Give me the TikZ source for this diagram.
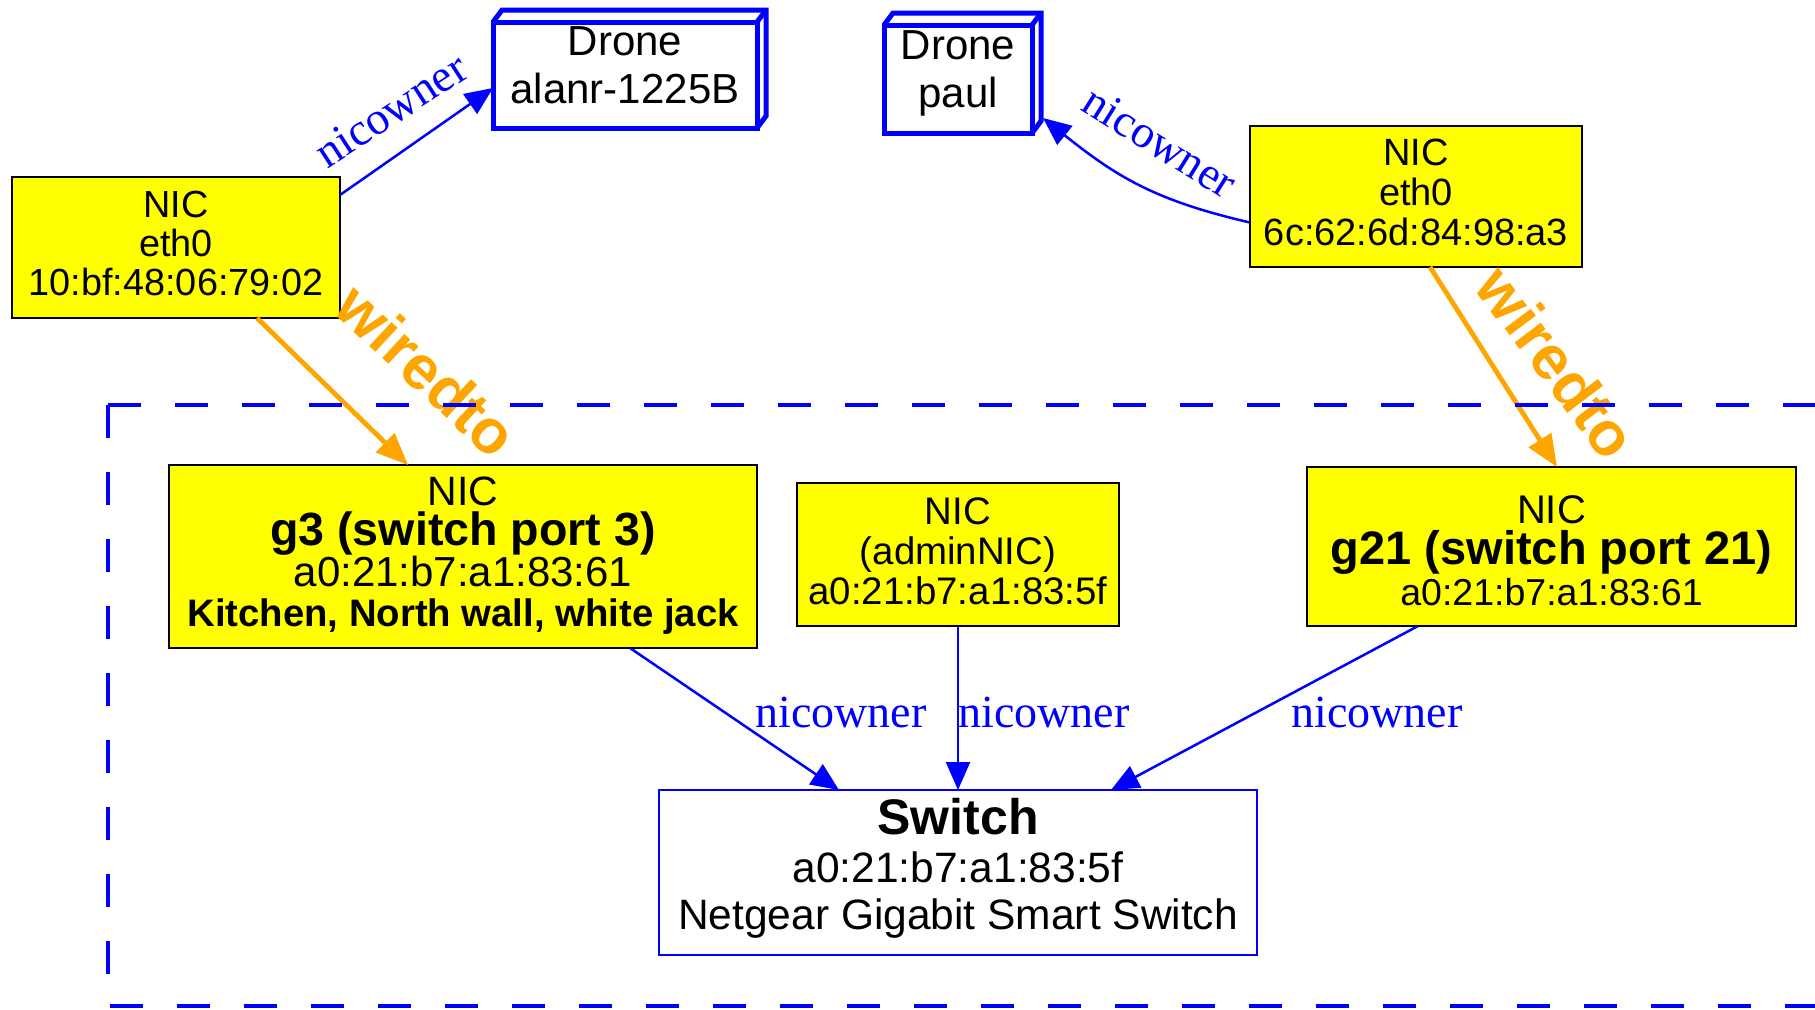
\documentclass[tikz,border=0pt]{standalone}
\usepackage{fontspec}
\setmainfont{Liberation Sans}
\newfontfamily\edgeserif{Liberation Serif}
\usetikzlibrary{arrows.meta,calc,fit}

\definecolor{nicyellow}{RGB}{255,255,0}
\definecolor{wireorange}{RGB}{255,165,0}
\definecolor{ownerblue}{RGB}{0,0,255}

% font size / baseline skip shorthand
\newcommand\fsz[2]{\fontsize{#1}{#2}\selectfont}
% centred lines stacked with a fixed baseline skip
\newcommand\textstack[1]{\vtop{\halign{\hfil##\hfil\cr#1\crcr}}}
% keep the baseline skip fixed even for tall lines
\AtBeginDocument{\setlength{\lineskiplimit}{-30pt}}

\begin{document}
\begin{tikzpicture}[x=0.5pt,y=-0.5pt, line join=miter,
  % box texts, centred on the box and nudged with yshift
  stacklabel/.style={inner sep=0pt, outer sep=0pt},
  plainbox/.style={inner sep=0pt, outer sep=0pt},
  nicbox/.style={plainbox, draw=black, line width=1.35pt, fill=nicyellow},
  dronebox/.style={plainbox, draw=ownerblue, line width=2.5pt, fill=white},
  switchbox/.style={plainbox, draw=ownerblue, line width=1pt, fill=white},
  depthface/.style={draw=ownerblue, line width=2.5pt},
  owner/.style={draw=ownerblue, line width=1.25pt, -{Triangle[length=14pt,width=12pt]}},
  wire/.style={draw=wireorange, line width=2.4pt, -{Triangle[length=16pt,width=13pt]}},
  ownerlabel/.style={text=ownerblue, inner sep=0pt, font=\edgeserif\fsz{23}{23}},
  wirelabel/.style={text=wireorange, inner sep=0pt, font=\bfseries\fsz{31}{31}},
  cluster/.style={draw=ownerblue, line width=2pt, dash pattern=on 16.5pt off 17pt}
]
\useasboundingbox (0,0) rectangle (1815,1009);
\clip (0,0) rectangle (1815,1009);
\fill[white] (0,0) rectangle (1815,1009);

% host NICs and drones
\node[nicbox, fit={(12,177) (340,318)},
  label={[stacklabel, font=\fsz{18.9}{19.5}, yshift=2.1pt]center:{%
    \textstack{NIC\cr eth0\cr 10:bf:48:06:79:02}}}] (nic1) {};
\node[nicbox, fit={(1250,126) (1582,267)},
  label={[stacklabel, font=\fsz{19}{20}, yshift=2.05pt]center:{%
    \textstack{NIC\cr eth0\cr 6c:62:6d:84:98:a3}}}] (nic2) {};

\node[dronebox, fit={(493,22) (757,128)},
  label={[stacklabel, font=\fsz{21}{24}, yshift=4.85pt]center:{%
    \textstack{Drone\cr alanr-1225B}}}] (alanr) {};
\node[dronebox, fit={(884,25) (1032,133)},
  label={[stacklabel, font=\fsz{21}{24}, yshift=3pt]center:{%
    \textstack{Drone\cr paul}}}] (paul) {};

% 3d faces of the drone boxes
\foreach \d in {alanr,paul}{
  \draw[depthface] (\d.north west) -- ++(9,-12)
    -- ($(\d.north east)+(9,-12)$) -- ($(\d.south east)+(9,-12)$)
    -- (\d.south east);
  \draw[depthface] (\d.north east) -- ++(9,-12);
}

% switch ports and the switch
\node[nicbox, fit={(169,465) (757,648)},
  label={[stacklabel, font=\fsz{19.15}{20.3}, yshift=0.45pt]center:{%
    \textstack{{\fsz{20.5}{20}NIC}\cr
      {\bfseries\fsz{23.3}{20}g3 (switch port 3)}\cr
      {\fsz{21}{20}a0:21:b7:a1:83:61}\cr
      {\bfseries Kitchen, North wall, white jack}}}}] (g3) {};
\node[nicbox, fit={(797,483) (1119,626)},
  label={[stacklabel, font=\fsz{19.2}{20}, yshift=1.85pt]center:{%
    \textstack{NIC\cr (adminNIC)\cr a0:21:b7:a1:83:5f}}}] (admin) {};
\node[nicbox, fit={(1307,467) (1796,626)},
  label={[stacklabel, font=\fsz{18.75}{20.3}, yshift=-2.1pt]center:{%
    \textstack{{\fsz{20}{20}NIC}\cr
      {\bfseries\fsz{23.5}{20}g21 (switch port 21)}\cr
      a0:21:b7:a1:83:61}}}] (g21) {};
\node[switchbox, fit={(659,790) (1257,955)},
  label={[stacklabel, font=\fsz{21.25}{23.75}, yshift=2.1pt]center:{%
    \textstack{{\bfseries\fsz{25}{23.75}Switch}\cr
      a0:21:b7:a1:83:5f\cr
      Netgear Gigabit Smart Switch}}}] (switch) {};

% ownership edges
\draw[owner] ($(nic1.north east)+(0,18)$) -- ($(alanr.west)+(0,13)$);
\draw[owner] ($(nic2.west)+(0,26)$)
  .. controls ($(nic2.west)+(-95,4)$) and ($(paul.south east)+(85,44)$)
  .. ($(paul.south east)+(11,-15)$);
\draw[owner] ($(g3.south west)+(461,0)$) -- ($(switch.north west)+(180,0)$);
\draw[owner] (admin.south) -- (switch.north);
\draw[owner] ($(g21.south west)+(111,0)$) -- ($(switch.north west)+(452,0)$);

% cabling edges
\draw[wire] ($(nic1.south west)+(245,0)$) -- ($(g3.north west)+(239,0)$);
\draw[wire] ($(nic2.south west)+(180,0)$) -- ($(g21.north west)+(250,0)$);

% edge labels
\node[ownerlabel, rotate=33] (ownA) at (391,110) {nicowner};
\node[ownerlabel, rotate=-32] (ownB) at (1160,142) {nicowner};
\node[ownerlabel, anchor=base] (ownC) at (841,727) {nicowner};
\node[ownerlabel, anchor=base] (ownD) at (1044,727) {nicowner};
\node[ownerlabel, anchor=base] (ownE) at (1377,727) {nicowner};
\node[wirelabel, rotate=-43] (wireA) at (427,370) {wiredto};
\node[wirelabel, rotate=-53] (wireB) at (1557,362) {wiredto};

% switch cluster outline
\coordinate (clustercorner) at (108,405);
\draw[cluster] (clustercorner) -- (1860,405);
\draw[cluster] (clustercorner) -- (108,1006) -- (1860,1006);
\end{tikzpicture}
\end{document}
